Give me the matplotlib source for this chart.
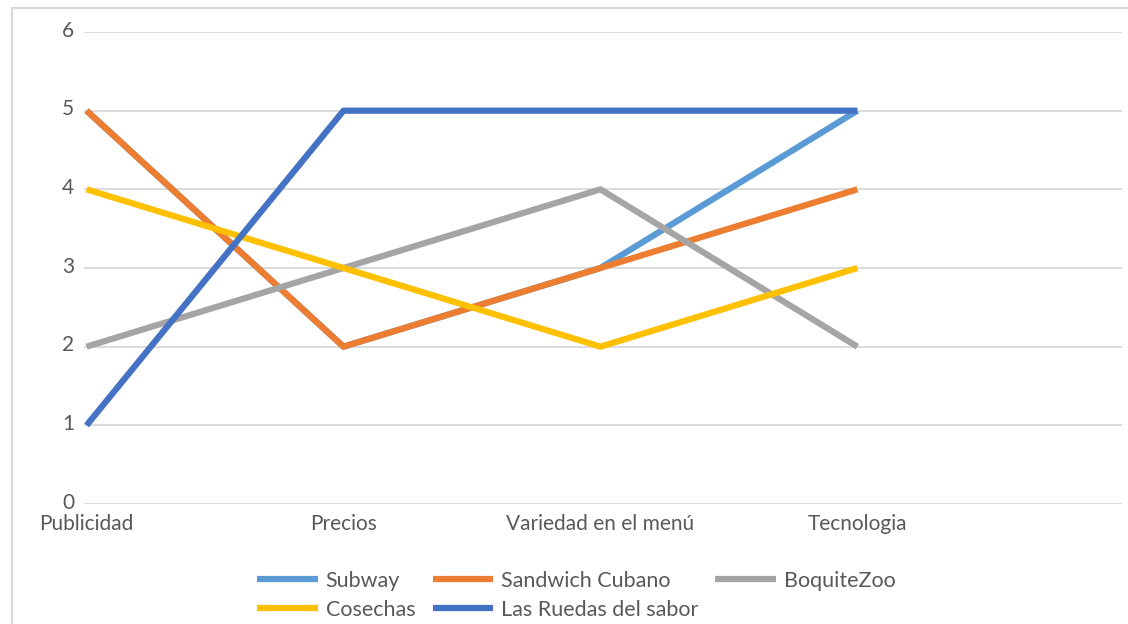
import matplotlib
matplotlib.use("Agg")
import matplotlib.pyplot as plt
import matplotlib.transforms as mtransforms
from matplotlib.patches import Rectangle

# categories on the x axis (Excel leaves one empty slot at the end)
categories = ["Publicidad", "Precios", "Variedad en el menú", "Tecnologia"]

subway = [5, 2, 3, 5]
sandwich_cubano = [5, 2, 3, 4]
boquite_zoo = [2, 3, 4, 2]
cosechas = [4, 3, 2, 3]
ruedas_sabor = [1, 5, 5, 5]

series_names = ["Subway", "Sandwich Cubano", "BoquiteZoo", "Cosechas", "Las Ruedas del sabor"]
series_values = [subway, sandwich_cubano, boquite_zoo, cosechas, ruedas_sabor]
series_colors = ["#5B9BD5", "#ED7D31", "#A5A5A5", "#FFC000", "#4472C4"]

plt.rcParams['font.family'] = ['Lato', 'DejaVu Sans']
text_col = "#595959"
grid_col = "#D9D9D9"

fig = plt.figure(figsize=(11.28, 6.24), dpi=100)

# chart frame (runs off the right/bottom edge like the screenshot)
fig.patches.append(Rectangle((12 / 1128, -0.1), 1.2, 1 - 8 / 624 + 0.1,
                             transform=fig.transFigure, fill=False,
                             edgecolor=grid_col, linewidth=1.5))

ax = fig.add_axes([84 / 1128, 1 - 504 / 624, (1122 - 84) / 1128, (504 - 32) / 624])

x = list(range(len(categories)))
lines = []
for name, vals, col in zip(series_names, series_values, series_colors):
  ln, = ax.plot(x, vals, color=col, linewidth=4.5, label=name, solid_capstyle="butt")
  lines.append(ln)

ax.set_xlim(-0.01, 4.03)
ax.set_ylim(0, 6)
ax.set_yticks(range(0, 7))
ax.set_xticks(x)
ax.set_xticklabels(categories)
ax.yaxis.grid(True, color=grid_col, linewidth=1.3)
ax.set_axisbelow(True)
for s in ax.spines.values():
  s.set_visible(False)
ax.tick_params(axis="both", length=0, labelsize=15, colors=text_col)
ax.tick_params(axis="y", pad=7)
ax.tick_params(axis="x", pad=7)

# y labels sit a little above their gridline in the original
shift = mtransforms.ScaledTranslation(0, 2.5 / 72, fig.dpi_scale_trans)
for lbl in ax.get_yticklabels():
  lbl.set_transform(lbl.get_transform() + shift)

# Excel fills the legend row by row, matplotlib column by column
order = [0, 3, 1, 4, 2]
leg = fig.legend([lines[i] for i in order], [series_names[i] for i in order],
                 ncol=3, loc="center", bbox_to_anchor=(0.511, 0.046),
                 frameon=False, fontsize=15.5, handlelength=2.8,
                 handletextpad=0.37, columnspacing=0.8, labelspacing=0.43)
for t in leg.get_texts():
  t.set_color(text_col)

fig.savefig("out.png", dpi=100)
